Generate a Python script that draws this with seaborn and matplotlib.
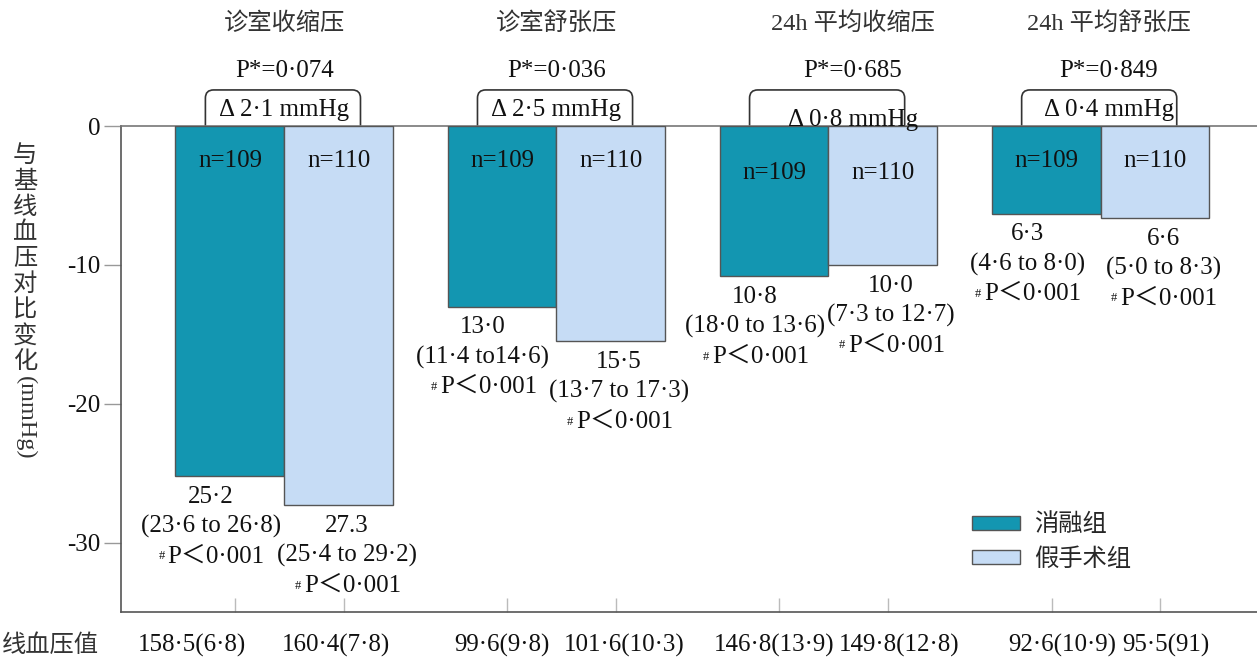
import numpy as np
import pandas as pd
import matplotlib
matplotlib.use('Agg')
import matplotlib.pyplot as plt
import matplotlib.transforms as mtransforms
import seaborn as sns
from matplotlib.patches import FancyBboxPatch

# data
groups = ['诊室收缩压', '诊室舒张压', '24h 平均收缩压', '24h 平均舒张压']
arms = ['消融组', '假手术组']
ablation_change = [25.2, 13.0, 10.8, 6.3]
sham_change = [27.3, 15.5, 10.0, 6.6]
ablation_txt = ['25·2', '13·0', '10·8', '6·3']
sham_txt = ['27.3', '15·5', '10·0', '6·6']
ablation_ci = ['(23·6 to 26·8)', '(11·4 to14·6)', '(18·0 to 13·6)', '(4·6 to 8·0)']
sham_ci = ['(25·4 to 29·2)', '(13·7 to 17·3)', '(7·3 to 12·7)', '(5·0 to 8·3)']
within_p = 'P＜0·001'
n_labels = ['n=109', 'n=110']
p_between = ['P*=0·074', 'P*=0·036', 'P*=0·685', 'P*=0·849']
delta_txt = ['Δ 2·1 mmHg', 'Δ 2·5 mmHg', 'Δ 0·8 mmHg', 'Δ 0·4 mmHg']
baseline_ablation = ['158·5(6·8)', '99·6(9·8)', '146·8(13·9)', '92·6(10·9)']
baseline_sham = ['160·4(7·8)', '101·6(10·3)', '149·8(12·8)', '95·5(91)']
yticks = [0, -10, -20, -30]

teal = '#1396b1'
light = '#c6dcf5'
txt_col = '#111111'
fs = 18     # serif text size
cfs = 17.5  # CJK text size

df = pd.DataFrame({
    'group': groups * 2,
    'arm': [arms[0]] * 4 + [arms[1]] * 4,
    'change': [-v for v in ablation_change + sham_change],
})

sns.set_style('white')
plt.rcParams['font.family'] = ['Liberation Serif', 'Noto Sans CJK SC', 'DejaVu Sans']

fig = plt.figure(figsize=(12.57, 6.62), dpi=100)
ax = fig.add_axes([0.0963, 0.0755, 0.9037, 0.7341])

sns.barplot(data=df, x='group', y='change', hue='arm', order=groups, hue_order=arms,
            palette=[teal, light], saturation=1, width=0.8, gap=0, errorbar=None,
            edgecolor='#555555', linewidth=1, ax=ax, zorder=3)

ax.set_xlim(-0.6, 3.575)
ax.set_ylim(-35, 0)
ax.set_xlabel('')
ax.set_ylabel('')

# spines
for s in ['left', 'bottom']:
    ax.spines[s].set_color('#555555')
    ax.spines[s].set_linewidth(1.2)
ax.spines['top'].set_color('#777777')
ax.spines['top'].set_linewidth(1.2)
ax.spines['right'].set_visible(False)

ax.set_yticks(yticks)
ax.set_yticklabels([str(t) for t in yticks], fontsize=fs, color=txt_col)
ax.tick_params(axis='y', direction='out', length=12, width=1, color='#999999', pad=3, left=True)

# bottom ticks at the bars, baseline values written underneath
bar_centers = []
bar_labels = []
for i in range(len(groups)):
    bar_centers += [i - 0.2, i + 0.2]
    bar_labels += [baseline_ablation[i], baseline_sham[i]]
ax.set_xticks([c + 0.02 for c in bar_centers])
ax.set_xticklabels([])
ax.tick_params(axis='x', direction='in', length=10, width=1, color='#bbbbbb', bottom=True)

lab_shift = [-0.14, -0.01, 0.0, 0.05, 0.0, 0.06, 0.06, 0.04]
trans = mtransforms.blended_transform_factory(ax.transData, ax.transAxes)
for c, lab, dx in zip(bar_centers, bar_labels, lab_shift):
    ax.text(c + dx, -0.068, lab, transform=trans, ha='center', va='center', fontsize=fs,
            color=txt_col, clip_on=False)

# legend
handles, labels = ax.get_legend_handles_labels()
ax.legend(handles, labels, loc='upper left', bbox_to_anchor=(0.749, 0.203), frameon=False,
          fontsize=cfs, handlelength=2.0, handleheight=0.5, handletextpad=0.55,
          labelspacing=0.5, borderaxespad=0, borderpad=0)

shift = [0.0, 0.0, 0.09, 0.03]
for i in range(len(groups)):
    # header, between-group p and delta bracket
    ax.text(i + shift[i], 7.35, groups[i], ha='center', va='center', fontsize=cfs,
            color='#333333', clip_on=False)
    ax.text(i + shift[i], 4.0, p_between[i], ha='center', va='center', fontsize=fs,
            color=txt_col, clip_on=False)
    br = FancyBboxPatch((i - 0.29, -3), 0.57, 5.6,
                        boxstyle='round,pad=0,rounding_size=0.03', mutation_aspect=19.5,
                        fc='none', ec='#333333', lw=1.2, zorder=1, clip_on=False)
    ax.add_patch(br)
    dy = 0.4 if i == 2 else 1.15
    ax.text(i + shift[i], dy, delta_txt[i], ha='center', va='center', fontsize=fs,
            color=txt_col, clip_on=False, zorder=5)

    # per-bar labels
    for j, (vals, txts, cis) in enumerate([(ablation_change, ablation_txt, ablation_ci),
                                          (sham_change, sham_txt, sham_ci)]):
        xc = i + (-0.2 if j == 0 else 0.2)
        n_y = -2.5 - (0.9 if i == 2 else 0)
        ax.text(xc, n_y, n_labels[j], ha='center', va='center', fontsize=fs,
                color=txt_col, zorder=5)
        xl = xc + (-0.07 if j == 0 else 0.03)
        y0 = -vals[i] - 1.5
        ax.text(xl, y0, txts[i], ha='center', va='center', fontsize=fs, color=txt_col,
                clip_on=False)
        ax.text(xl, y0 - 2.15, cis[i], ha='center', va='center', fontsize=fs,
                color=txt_col, clip_on=False)
        t = ax.text(xl + 0.02, y0 - 4.3, within_p, ha='center', va='center', fontsize=fs,
                    color=txt_col, clip_on=False)
        ax.annotate('#', xy=(0, 0.5), xycoords=t, xytext=(-2, 0), textcoords='offset points',
                    ha='right', va='center', fontsize=9, color=txt_col)

# y-axis label: stacked characters then rotated unit
ylab_chars = '与基线血压对比变化'
for k, ch in enumerate(ylab_chars):
    fig.text(25 / 1257, 1 - (156 + k * 25.8) / 662, ch, ha='center', va='center',
             fontsize=cfs, color='#333333')
fig.text(25 / 1257, 1 - 418 / 662, '(mmHg)', ha='center', va='center', rotation=-90,
         fontsize=cfs, color='#333333')

fig.text(2 / 1257, 1 - 646 / 662, '线血压值', ha='left', va='center', fontsize=cfs,
         color='#333333')

fig.savefig('out.png', dpi=100)
